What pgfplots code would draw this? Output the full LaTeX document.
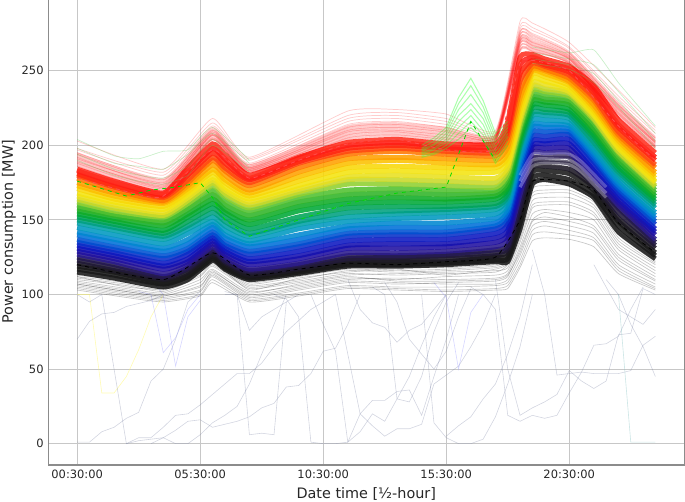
\documentclass[border=0pt]{standalone}
\usepackage{fontspec}
\setmainfont{DejaVu Sans}
\usepackage{pgfplots}
\usepackage{pgfplotstable}
\pgfplotsset{compat=1.18}
\definecolor{c1}{HTML}{1A1A1A}\definecolor{c2}{HTML}{181818}\definecolor{c3}{HTML}{1A1A1A}\definecolor{c4}{HTML}{1C1824}\definecolor{c5}{HTML}{201838}\definecolor{c6}{HTML}{241850}
\definecolor{c7}{HTML}{2A1A8C}\definecolor{c8}{HTML}{2010A0}\definecolor{c9}{HTML}{1410B0}\definecolor{c10}{HTML}{0C18C0}\definecolor{c11}{HTML}{0830C8}
\definecolor{c12}{HTML}{0050D0}\definecolor{c13}{HTML}{0070D8}\definecolor{c14}{HTML}{0088D0}\definecolor{c15}{HTML}{0098C0}\definecolor{c16}{HTML}{00A0A8}
\definecolor{c17}{HTML}{00A080}\definecolor{c18}{HTML}{00A458}\definecolor{c19}{HTML}{00A838}\definecolor{c20}{HTML}{10AC28}\definecolor{c21}{HTML}{30B428}\definecolor{c22}{HTML}{50C030}
\definecolor{c23}{HTML}{90D030}\definecolor{c24}{HTML}{C8D828}\definecolor{c25}{HTML}{E8E020}\definecolor{c26}{HTML}{F4E410}\definecolor{c27}{HTML}{F8D808}
\definecolor{c28}{HTML}{FCC000}\definecolor{c29}{HTML}{FFA000}\definecolor{c30}{HTML}{FF7800}
\definecolor{c31}{HTML}{FF4810}\definecolor{c32}{HTML}{FF2810}\definecolor{c33}{HTML}{FF1C14}\definecolor{c34}{HTML}{FF3020}
\definecolor{outl}{HTML}{8088A8}
\pgfplotstableread[header=false]{
0 115 117 119 121 123 125 127 129 131 133 135 137 140 142 145 148 150 152 154 156 158 160 162 164 166 168 171 173 175 178 180 181 183 184
3 111 113 115 116 118 120 122 124 126 128 130 132 135 137 140 143 145 147 149 151 153 154 156 158 160 162 164 166 168 170 172 173 175 176
7 105 107 108 110 111 112 114 117 119 121 124 126 129 131 134 137 139 141 143 146 148 150 152 153 155 157 159 161 162 163 165 166 167 168
9 110 112 113 115 117 118 120 122 124 127 129 131 134 137 141 144 146 149 152 154 157 159 161 163 165 167 169 171 173 175 177 180 182 185
11 123 124 126 127 129 130 132 134 136 138 140 142 145 147 149 152 155 158 161 164 167 170 173 175 177 179 182 184 187 190 192 195 198 201
12 117 118 119 121 122 123 125 127 129 131 133 135 138 140 143 146 149 152 155 157 160 163 166 168 170 172 175 177 180 183 185 188 191 194
14 110 111 112 113 115 116 117 120 122 124 127 129 132 134 136 139 141 144 147 150 153 156 158 160 162 164 166 168 170 173 175 177 178 180
18 114 115 116 117 118 120 121 124 126 129 132 134 137 140 144 147 149 152 156 159 162 165 167 169 171 173 176 179 182 185 188 189 191 192
22 119 120 121 123 124 126 128 131 133 136 139 141 144 146 149 152 155 158 161 164 167 170 174 177 179 182 185 188 191 194 196 198 200 202
26 119 120 122 123 125 126 128 131 134 137 140 142 145 148 151 154 156 159 162 165 168 171 174 177 180 183 186 190 192 196 198 200 202 204
30 120 121 122 124 126 127 129 132 134 137 140 142 145 148 152 155 157 159 162 164 167 170 173 176 179 182 185 188 191 194 196 198 199 201
34 122 123 125 126 128 130 132 135 138 141 144 146 148 151 154 157 159 161 164 166 168 170 172 175 178 182 185 187 190 193 195 197 199 201
35 122 124 126 129 131 133 137 140 143 147 150 153 156 158 161 164 166 168 171 173 176 179 181 184 186 189 192 195 199 203 207 210 213 216
36 144 148 152 155 159 163 167 171 174 178 182 185 188 191 194 197 199 201 204 206 209 211 213 216 218 221 224 228 232 237 243 248 254 259
37 174 178 182 185 188 191 195 198 200 203 206 209 212 214 217 220 222 225 227 230 232 235 237 240 242 245 248 250 251 253 255 257 259 261
38 177 180 183 186 189 192 195 198 201 203 206 209 212 214 217 220 222 224 227 229 231 234 236 238 241 243 246 248 250 251 253 254 256 258
40 174 177 181 184 188 192 195 198 201 204 207 209 211 213 215 218 220 222 224 227 229 231 233 235 236 238 240 242 243 245 247 249 251 253
42 165 167 170 172 174 176 178 181 183 186 189 191 193 195 197 200 202 205 207 210 212 215 217 218 220 221 223 225 227 230 232 235 237 240
44 142 146 149 151 155 158 160 162 164 167 169 171 173 175 177 180 182 184 186 189 191 193 195 196 198 199 201 203 205 207 209 212 214 217
47 124 126 128 131 133 135 137 140 142 144 147 149 151 153 155 158 160 162 164 166 168 170 172 173 175 176 178 180 182 185 187 190 192 195
}\core
\pgfplotstableread[header=false]{
0 189 194 186 198 191 203 188 195 192 197
7 173 177 170 182 175 184 171 178 174 180
11 207 210 204 215 208 218 205 212 209 213
14 184 187 182 191 185 192 183 188 186 190
22 209 214 205 220 210 223 207 216 212 218
26 210 216 207 222 212 224 209 218 214 220
30 207 212 204 218 209 221 205 214 210 216
34 205 207 203 209 205 210 204 207 206 208
36 268 274 264 280 270 283 266 276 272 278
37 267 273 263 279 269 282 265 275 271 277
40 258 262 255 266 259 269 256 263 260 265
44 222 227 219 233 224 237 221 229 225 231
47 200 205 198 210 202 212 199 206 203 208
}\pale
\pgfplotstableread[header=false]{
0 186 187 188 189 190 191 192 193 194 195
7 169 170 171 172 172 173 174 175 176 177
11 204 204 205 206 207 207 208 209 210 211
14 182 182 183 183 184 184 185 185 186 187
22 204 205 206 207 208 209 210 211 212 213
26 206 207 208 209 210 211 212 213 214 215
30 203 204 205 206 207 208 209 210 211 212
34 202 203 203 204 204 205 205 206 206 207
36 263 264 266 268 269 270 271 272 274 276
37 263 264 265 266 267 268 269 270 272 274
40 255 255 256 257 258 258 259 260 261 262
44 219 220 221 222 223 224 225 226 227 228
47 198 199 199 200 201 202 202 203 204 205
}\palex
\pgfplotstableread[header=false]{
0 106 112 104 109 114 107 111 105 113 108 110 103 112 107
4 101 108 99 104 110 102 107 100 109 103 106 98 105 102
7 98 104 96 101 105 99 103 97 106 100 102 95 104 99
10 103 115 100 110 118 106 113 102 116 108 112 99 117 105
11 113 121 110 117 124 114 120 112 122 116 119 108 123 115
14 98 106 96 102 108 99 105 97 107 100 104 95 103 101
18 103 110 100 106 113 104 109 101 112 105 108 99 111 107
22 108 116 105 111 118 109 114 106 117 110 113 104 115 112
26 107 115 104 110 118 108 113 105 116 111 114 103 117 109
30 108 116 103 112 118 107 114 105 117 110 115 102 113 109
34 109 118 104 113 120 107 115 106 119 111 116 103 117 110
35 112 122 106 116 126 110 120 108 124 114 118 104 121 113
36 130 142 120 135 148 126 139 123 145 132 137 118 144 128
37 150 168 140 158 174 146 163 143 171 154 160 136 166 149
38 155 170 142 160 176 149 165 146 173 157 162 138 168 152
40 152 170 140 160 176 146 165 143 173 155 162 137 168 149
42 146 162 136 153 166 141 158 138 164 150 155 132 160 144
44 125 138 116 130 142 120 134 118 140 127 132 114 136 123
47 110 121 104 114 123 107 118 105 122 112 116 103 120 109
}\grey
\pgfplotstableread[header=false]{
28 192 193 194 195 196 197 198 200
29 194 195 197 198 200 201 203 205
30 198 200 202 204 206 208 210 212
31 204 208 212 216 220 224 228 232
32 212 216 220 224 228 234 240 245
33 204 207 210 214 218 222 226 230
34 188 190 193 196 199 202 205 208
35 200 203 206 208 210 212 214 216
}\spike
\pgfplotstableread[header=false]{
0 190 194 198 204
3 180 184 188 193
5 176 180 186 191
7 174 178 184 196
9 180 186 194 197
11 200 204 208 212
14 182 185 188 190
}\palegl
\pgfplotstableread[header=false]{
37 255 258 262 266
40 251 254 258 262
42 242 248 254 264
44 226 230 236 242
47 198 203 208 213
}\palegr
\begin{document}
\begin{tikzpicture}[x=1pt,y=1pt]
\path[use as bounding box] (0,0) rectangle (513.75,376.5);
\begin{axis}[
  at={(36.2pt,27.75pt)},anchor=south west,
  scale only axis,width=477pt,height=349.8pt,
  xmin=-2.35,xmax=49.35,ymin=-14.3,ymax=298.4,
  xtick={0,10,20,30,40},
  xticklabels={00:30:00,05:30:00,10:30:00,15:30:00,20:30:00},
  ytick={0,50,100,150,200,250},
  /pgf/number format/assume math mode=true,
  tick label style={font=\fontsize{8.6}{10}\selectfont,text=black!85},
  label style={font=\fontsize{10.8}{12}\selectfont,text=black!85},
  xlabel={Date time [½-hour]},
  ylabel={Power consumption [MW]},
  xlabel style={at={(axis description cs:0.5,-0.062)},anchor=center},
  ylabel style={at={(axis description cs:-0.062,0.5)},anchor=center},
  tick style={draw=none},
  grid=major,
  grid style={draw=black!22,line width=0.7pt},
  axis line style={draw=black!45,line width=0.9pt},
  axis x line*=box,axis y line*=box,
]
% outliers
\addplot[draw=yellow!60!white,line width=.45pt,opacity=.5] coordinates {(0,100)(1,100)(2,34)(3,34)(4,45)(5,63)(6,85)(7,100)};
\addplot[draw=outl,line width=.45pt,opacity=.35] coordinates {(0,70)(1,82)(2,87)(3,88)(4,92)(5,94)(6,96)(7,100)};
\addplot[draw=outl,line width=.45pt,opacity=.35] coordinates {(0,100)(1,95)(2,100)(3,50)(4,0)(5,2)(6,3)(7,4)(8,0)(9,0)(10,6)(11,14)(12,19)(13,25)(14,40)(15,60)(16,80)(17,100)};
\addplot[draw=outl,line width=.45pt,opacity=.35] coordinates {(0,1)(1,1)(2,8)(3,11)(4,17)(5,21)(6,42)(7,50)(8,70)(9,95)(10,102)};
\addplot[draw=outl,line width=.45pt,opacity=.35] coordinates {(4,0)(5,4)(6,4)(7,11)(8,19)(9,20)(10,26)(11,33)(12,40)(13,47)(14,47)(15,54)(16,65)(17,75)(19,90)(21,100)};
\addplot[draw=outl,line width=.45pt,opacity=.35] coordinates {(6,0)(7,4)(8,9)(9,15)(10,16)(11,11)(12,13)(13,15)(14,18)(15,24)(16,27)(17,38)(18,39)(19,47)(20,62)(21,64)(22,80)(23,100)};
\addplot[draw=outl,line width=.45pt,opacity=.35] coordinates {(12,102)(13,100)(14,6)(15,7)(16,6)(17,95)(18,100)};
\addplot[draw=outl,line width=.45pt,opacity=.35] coordinates {(16,100)(17,97)(18,85)(19,1)(20,0)(21,0)(22,1)(23,20)(24,29)(25,29)(26,35)(27,36)(28,19)(29,45)(30,70)(31,100)};
\addplot[draw=outl,line width=.45pt,opacity=.35] coordinates {(12,100)(13,100)(14,76)(15,85)(16,90)(17,95)};
\addplot[draw=blue!40!white,line width=.45pt,opacity=.4] coordinates {(5,102)(6,100)(7,61)(8,71)(9,90)(10,100)};
\addplot[draw=blue!40!white,line width=.45pt,opacity=.4] coordinates {(6,110)(7,100)(8,52)(9,85)(10,96)};
\addplot[draw=outl,line width=.45pt,opacity=.35] coordinates {(19,100)(20,80)(21,62)(22,1)(23,8)(24,20)(25,15)(26,30)(27,45)(28,66)(29,85)(30,100)};
\addplot[draw=outl,line width=.45pt,opacity=.35] coordinates {(21,100)(22,60)(23,20)(24,12)(25,5)(26,10)(27,10)(28,13)(29,40)(30,46)(31,52)(32,65)(33,80)(34,100)};
\addplot[draw=outl,line width=.45pt,opacity=.35] coordinates {(22,110)(23,90)(24,81)(25,78)(26,68)(27,76)(28,80)(29,90)(30,100)};
\addplot[draw=outl,line width=.45pt,opacity=.35] coordinates {(24,105)(25,100)(26,30)(27,28)(28,45)(29,75)(30,95)(31,108)};
\addplot[draw=blue!40!white,line width=.45pt,opacity=.4] coordinates {(29,108)(30,98)(31,50)(32,88)(33,100)};
\addplot[draw=outl,line width=.45pt,opacity=.35] coordinates {(25,108)(26,95)(27,70)(28,60)(29,50)(30,62)(31,85)(32,104)};
\addplot[draw=outl,line width=.45pt,opacity=.35] coordinates {(28,100)(29,14)(30,4)(31,0)(32,0)(33,3)(34,18)(35,40)(36,65)(37,100)};
\addplot[draw=outl,line width=.45pt,opacity=.35] coordinates {(30,5)(31,12)(32,18)(33,30)(34,40)(35,60)(36,85)(37,120)};
\addplot[draw=outl,line width=.45pt,opacity=.35] coordinates {(32,105)(33,100)(34,90)(35,19)(36,15)(37,19)(38,17)(39,19)(40,34)(41,48)(42,66)(43,67)(44,72)(45,90)(46,105)};
\addplot[draw=outl,line width=.45pt,opacity=.35] coordinates {(34,110)(35,50)(36,19)(37,24)(38,28)(39,33)(40,49)(41,42)(42,37)(43,42)(44,73)(45,74)(46,104)(47,100)};
\addplot[draw=outl,line width=.45pt,opacity=.35] coordinates {(37,130)(38,100)(39,46)(40,47)(41,48)(42,47)(43,47)(44,47)(45,49)(46,66)(47,72)};
\addplot[draw=teal!50!white,line width=.45pt,opacity=.4] coordinates {(44,100)(45,1)(46,1)(47,1)};
\addplot[draw=outl,line width=.45pt,opacity=.35] coordinates {(43,110)(44,100)(45,80)(46,65)(47,45)};
\addplot[draw=outl,line width=.45pt,opacity=.35] coordinates {(42,120)(43,105)(44,90)(45,85)(46,80)(47,90)};
% grey fringe
\pgfplotsinvokeforeach{1,...,14}{
  \addplot[draw=black,line width=.5pt,opacity=.22,smooth,tension=.3] table[x index=0,y index=#1]{\grey};
}
% core rainbow
\pgfplotsinvokeforeach{1,...,34}{
  \addplot[draw=c#1,line width=3.7pt,opacity=.88,smooth,tension=.3] table[x index=0,y index=#1]{\core};
}
% sparser part of the dark lines after the evening rise
\addplot[draw=white,line width=2.4pt,opacity=.3,smooth,tension=.3] coordinates {(36,172)(37,186)(38,188)(40,187)(41,182)(43,165)};
\addplot[draw=white,line width=2.4pt,opacity=.3,smooth,tension=.3] coordinates {(36,176)(37,190)(38,191)(40,190)(41,185)(43,168)};
\addplot[draw=white,line width=2.4pt,opacity=.25,smooth,tension=.3] coordinates {(36,180)(37,194)(38,194)(40,194)(41,189)(43,172)};
% pale red upper fringe
\pgfplotsinvokeforeach{1,...,10}{
  \addplot[draw=red,line width=1.1pt,opacity=.2,smooth,tension=.3] table[x index=0,y index=#1]{\palex};
}
\pgfplotsinvokeforeach{1,...,10}{
  \addplot[draw=red,line width=.55pt,opacity=.2,smooth,tension=.3] table[x index=0,y index=#1]{\pale};
}
% pale green
\pgfplotsinvokeforeach{1,...,4}{
  \addplot[draw=green!70!black!60!white,line width=.5pt,opacity=.35,smooth,tension=.3] table[x index=0,y index=#1]{\palegl};
  \addplot[draw=green!70!black!60!white,line width=.5pt,opacity=.35,smooth,tension=.3] table[x index=0,y index=#1]{\palegr};
}
\pgfplotsinvokeforeach{1,...,8}{
  \addplot[draw=green!80!white,line width=.8pt,opacity=.4] table[x index=0,y index=#1]{\spike};
}
% dashed
\addplot[draw=red!70!white,line width=.6pt,dashed,smooth,tension=.3] coordinates {(0,178)(5,167)(7,166)(11,197)(14,178)(18,190)(22,201)(26,204)(30,197)(34,198)(36,255)(37,257)(40,250)(44,213)(47,190)};
\addplot[draw=green!85!black,line width=.6pt,dashed] coordinates {(0,176)(4,166)(6,170)(8,172)(10,175)(11,165)(12,150)(14,139)(18,150)(22,161)(26,168)(30,172)(32,216)(34,190)};
\addplot[draw=black,line width=.6pt,dashed,smooth,tension=.3] coordinates {(0,120)(7,110)(11,128)(14,113)(18,117)(22,121)(26,120)(30,122)(34,125)(36,150)(37,176)(40,176)(42,170)(44,148)(47,128)};
\end{axis}
\end{tikzpicture}
\end{document}
